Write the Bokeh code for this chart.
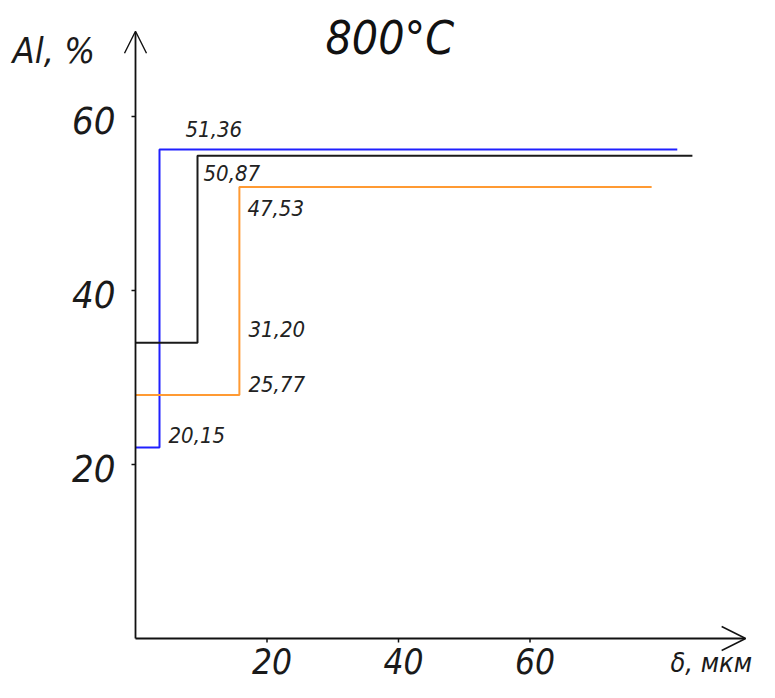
from bokeh.plotting import figure
from bokeh.models import Range1d, Arrow, OpenHead, ColumnDataSource
from bokeh.core.properties import value
from bokeh.embed import file_html
from bokeh.resources import INLINE

# ---- data ----
series_names = ["blue", "black", "orange"]
step_x = [3.65, 9.43, 15.8]        # δ, мкм where the concentration jumps
end_x = [82.4, 84.7, 78.5]         # δ, мкм where each line ends
low_y = [21.95, 34.0, 28.0]        # Al, % before the jump (as drawn)
high_y = [56.2, 55.5, 51.9]        # Al, % after the jump (as drawn)
low_labels = ["20,15", "31,20", "25,77"]
high_labels = ["51,36", "50,87", "47,53"]
x_ticks = [20, 40, 60]
y_ticks = [20, 40, 60]
x_axis_end = 92.8
y_axis_end = 69.8
title_text = "800°C"
y_title = "Al, %"
x_title = "δ, мкм"

colors = ["#2020ff", "#1a1a1a", "#ff9a33"]
FONT = "DejaVu Sans Condensed, DejaVu Sans"
AX = "#111111"

W, H = 759, 682
X0, Y0 = 135, 638          # canvas pixel of the origin
px_x, px_y = 6.575, 8.7    # pixels per data unit

p = figure(width=W, height=H, output_backend="svg", toolbar_location=None,
           x_range=Range1d(-X0 / px_x, (W - X0) / px_x),
           y_range=Range1d((Y0 - H) / px_y, Y0 / px_y),
           min_border=0)
p.axis.visible = False
p.outline_line_color = None
p.grid.visible = False
p.background_fill_color = "white"

# axes with open arrow heads
p.add_layout(Arrow(end=OpenHead(size=22, line_color=AX, line_width=1.4),
                   x_start=0, y_start=0, x_end=0, y_end=y_axis_end,
                   line_color=AX, line_width=1.8))
p.add_layout(Arrow(end=OpenHead(size=24, line_color=AX, line_width=1.4),
                   x_start=0, y_start=0, x_end=x_axis_end, y_end=0,
                   line_color=AX, line_width=1.8))

# tick marks
tick = 4
p.segment(x0=[0] * len(y_ticks), y0=y_ticks, x1=[-tick / px_x] * len(y_ticks), y1=y_ticks,
          line_color=AX, line_width=1.5)
p.segment(x0=x_ticks, y0=[0] * len(x_ticks), x1=x_ticks, y1=[-tick / px_y] * len(x_ticks),
          line_color=AX, line_width=1.5)

# tick labels
tick_style = dict(text_font=value(FONT), text_font_style="italic",
                  text_color="#1a1a1a", text_baseline="middle")
p.text(x=[0] * len(y_ticks), y=y_ticks, text=[str(t) for t in y_ticks],
       x_offset=-20, y_offset=4, text_align="right", text_font_size="38px", **tick_style)
p.text(x=x_ticks, y=[0] * len(x_ticks), text=[str(t) for t in x_ticks],
       x_offset=5, y_offset=22, text_align="center", text_font_size="35px", **tick_style)

# step lines
for sx, ex, ly, hy, c in zip(step_x, end_x, low_y, high_y, colors):
    p.line([0, sx, sx, ex], [ly, ly, hy, hy], line_color=c, line_width=2)

# value labels
hi_dx = [26, 6, 8]
hi_dy = [-21, 17, 21]
lo_dx = [9, 51, 9]
lo_dy = [-13, -14, -11]
src = ColumnDataSource(dict(
    x=step_x + step_x,
    y=high_y + low_y,
    text=high_labels + low_labels,
    dx=hi_dx + lo_dx,
    dy=hi_dy + lo_dy,
))
p.text(x="x", y="y", text="text", x_offset="dx", y_offset="dy", source=src,
       text_font=value(FONT), text_font_style="italic", text_font_size="22px",
       text_color="#222222", text_align="left", text_baseline="middle")

# title and axis names
p.text(x=[(325 - X0) / px_x], y=[(Y0 - 37) / px_y], text=[title_text],
       text_font=value(FONT), text_font_style="italic", text_font_size="46px",
       text_color="#111111", text_align="left", text_baseline="middle")
p.text(x=[(12 - X0) / px_x], y=[(Y0 - 50) / px_y], text=[y_title],
       text_font=value(FONT), text_font_style="italic", text_font_size="36px",
       text_color="#1a1a1a", text_align="left", text_baseline="middle")
p.text(x=[(670 - X0) / px_x], y=[(Y0 - 662) / px_y], text=[x_title],
       text_font=value(FONT), text_font_style="italic", text_font_size="27px",
       text_color="#1a1a1a", text_align="left", text_baseline="middle")

open("out.html", "w").write(file_html(p, INLINE))
